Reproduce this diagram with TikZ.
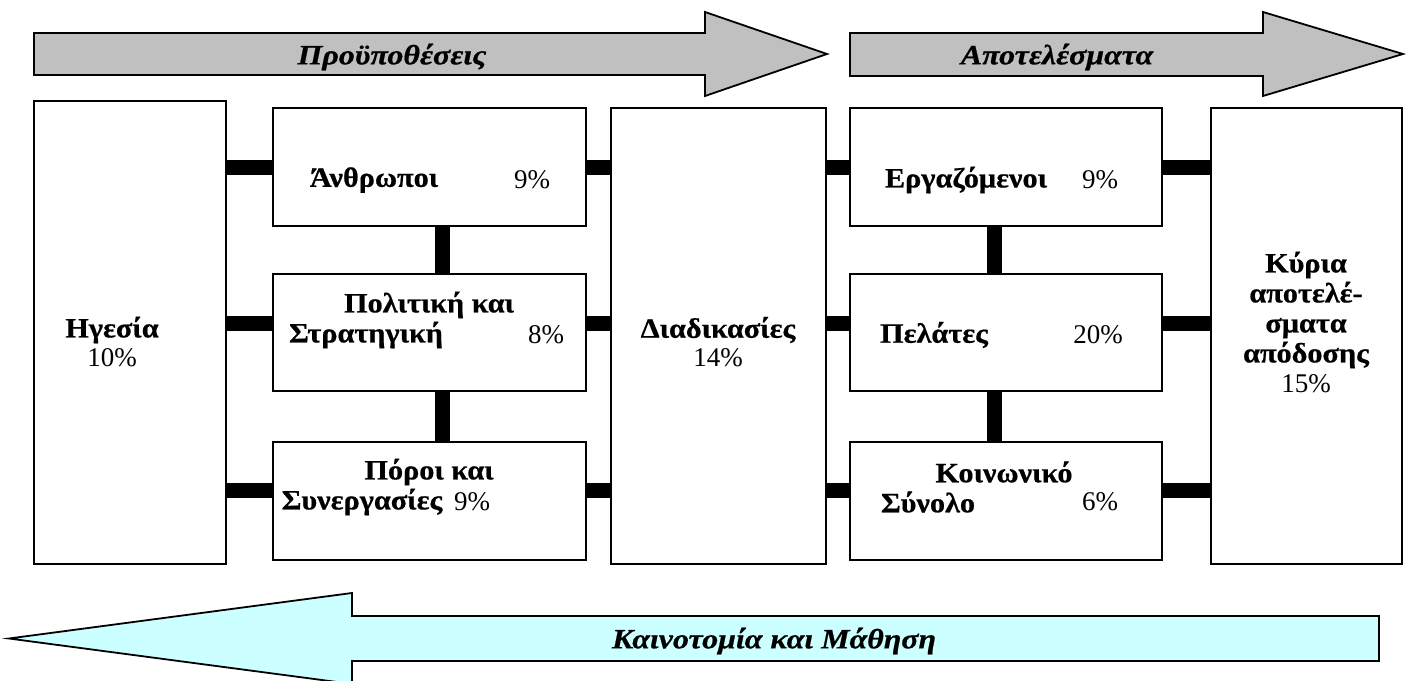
\documentclass[tikz,border=0pt]{standalone}
\usepackage{fontspec}
\setmainfont{Liberation Serif}[BoldFeatures={FakeStretch=1.08,FakeBold=0.6},BoldItalicFeatures={FakeStretch=1.14,FakeBold=0.6}]
\definecolor{arrgray}{HTML}{C0C0C0}
\definecolor{arrcyan}{HTML}{CCFFFF}
\begin{document}
\begin{tikzpicture}[x=1pt,y=-1pt,
  box/.style={draw=black,line width=1.8pt,fill=white,inner sep=0pt},
  bar/.style={line width=15pt,black},
  lbl/.style={font=\fontsize{28}{30}\selectfont\bfseries,inner sep=0pt,align=center},
  pct/.style={font=\fontsize{27}{30}\selectfont,inner sep=0pt},
  arrlbl/.style={font=\fontsize{28}{30}\selectfont\bfseries\itshape,inner sep=0pt},
  bigarrow/.style={draw=black,line width=1.8pt,line join=miter}]
\useasboundingbox (0,0) rectangle (1410,680);
% top arrows
\draw[bigarrow,fill=arrgray] (34,33) -- (705,33) -- (705,12) -- (827,54) -- (705,96) -- (705,75) -- (34,75) -- cycle;
\draw[bigarrow,fill=arrgray] (850,33) -- (1263,33) -- (1263,12) -- (1403,54) -- (1263,96) -- (1263,76) -- (850,76) -- cycle;
\node[arrlbl] (t1) at (392,57) {Προϋποθέσεις};
\node[arrlbl] (t2) at (1057,57) {Αποτελέσματα};
% bottom arrow
\draw[bigarrow,fill=arrcyan] (1379,616) -- (352,616) -- (352,593) -- (9,638.5) -- (352,684) -- (352,661) -- (1379,661) -- cycle;
\node[arrlbl] (t3) at (774,641) {Καινοτομία και Μάθηση};
% row coordinates
\coordinate (r1) at (0,167);
\coordinate (r2) at (0,323);
\coordinate (r3) at (0,490);
% boxes
\node[box,minimum width=192pt,minimum height=463pt] (hg) at (130,332.5) {};
\node[box,minimum width=313pt,minimum height=118pt] (an) at (429.5,167) {};
\node[box,minimum width=313pt,minimum height=117pt] (pk) at (429.5,332.5) {};
\node[box,minimum width=313pt,minimum height=118pt] (ps) at (429.5,501) {};
\node[box,minimum width=215pt,minimum height=456pt] (dd) at (718.5,336) {};
\node[box,minimum width=312pt,minimum height=118pt] (er) at (1006,167) {};
\node[box,minimum width=312pt,minimum height=117pt] (pe) at (1006,332.5) {};
\node[box,minimum width=312pt,minimum height=118pt] (ko) at (1006,501) {};
\node[box,minimum width=191pt,minimum height=456pt] (ky) at (1306.5,336) {};
% bars
\draw[bar] (hg.east |- r1) -- (an.west |- r1);
\draw[bar] (hg.east |- r2) -- (pk.west |- r2);
\draw[bar] (hg.east |- r3) -- (ps.west |- r3);
\draw[bar] (an.east |- r1) -- (dd.west |- r1);
\draw[bar] (pk.east |- r2) -- (dd.west |- r2);
\draw[bar] (ps.east |- r3) -- (dd.west |- r3);
\draw[bar] (dd.east |- r1) -- (er.west |- r1);
\draw[bar] (dd.east |- r2) -- (pe.west |- r2);
\draw[bar] (dd.east |- r3) -- (ko.west |- r3);
\draw[bar] (er.east |- r1) -- (ky.west |- r1);
\draw[bar] (pe.east |- r2) -- (ky.west |- r2);
\draw[bar] (ko.east |- r3) -- (ky.west |- r3);
\coordinate (vl) at (442,0);
\coordinate (vr) at (994,0);
\draw[bar] (an.south -| vl) -- (pk.north -| vl);
\draw[bar] (pk.south -| vl) -- (ps.north -| vl);
\draw[bar] (er.south -| vr) -- (pe.north -| vr);
\draw[bar] (pe.south -| vr) -- (ko.north -| vr);
% texts
\node[lbl] (hgt) at (112,330) {Ηγεσία};
\node[pct] (hgp) at (112,358) {10\%};
\node[lbl] (ant) at (374,180) {Άνθρωποι};
\node[pct] (anp) at (532,180) {9\%};
\node[lbl] (pkt1) at (429,305) {Πολιτική και};
\node[lbl] (pkt2) at (366,335) {Στρατηγική};
\node[pct] (pkp) at (546,335) {8\%};
\node[lbl] (pst1) at (429,472) {Πόροι και};
\node[lbl] (pst2) at (362,502) {Συνεργασίες};
\node[pct] (psp) at (472,502) {9\%};
\node[lbl] (ddt) at (718,330) {Διαδικασίες};
\node[pct] (ddp) at (718,358) {14\%};
\node[lbl] (ert) at (966,180) {Εργαζόμενοι};
\node[pct] (erp) at (1100,180) {9\%};
\node[lbl] (pet) at (934,335) {Πελάτες};
\node[pct] (pep) at (1098,335) {20\%};
\node[lbl] (kot1) at (1004,472) {Κοινωνικό};
\node[lbl] (kot2) at (928,502) {Σύνολο};
\node[pct] (kop) at (1100,502) {6\%};
\node[lbl] (kyt) at (1306,310) {Κύρια\\αποτελέ-\\σματα\\απόδοσης};
\node[pct] (kyp) at (1306,384) {15\%};
\end{tikzpicture}
\end{document}
